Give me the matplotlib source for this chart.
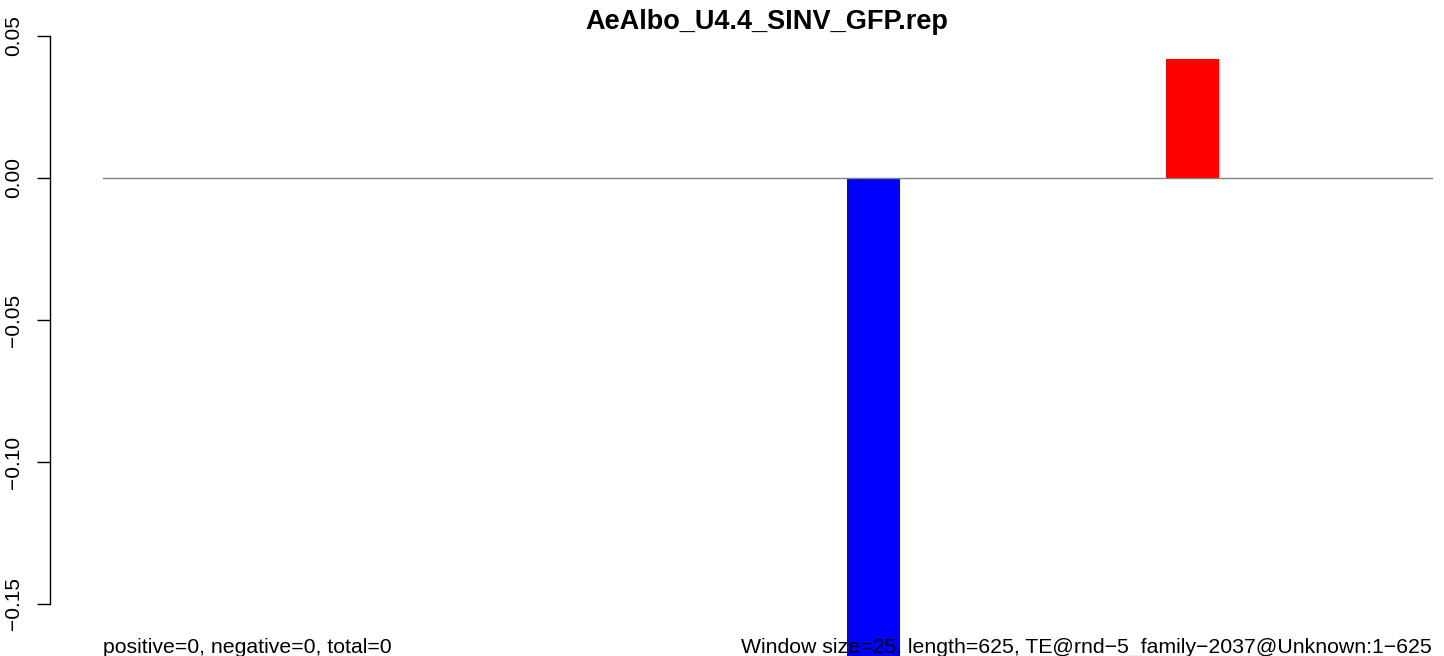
import matplotlib
matplotlib.use('Agg')
import matplotlib.pyplot as plt
import numpy as np

plt.rcParams['font.family'] = ['Liberation Sans', 'DejaVu Sans']

title = 'AeAlbo_U4.4_SINV_GFP.rep'
window = 25
length = 625
starts = np.arange(0, length, window)

# signal per window, only two windows carry a value
neg_vals = np.zeros(len(starts))
pos_vals = np.zeros(len(starts))
neg_vals[14] = -0.20
pos_vals[20] = 0.042

yticks = [-0.15, -0.10, -0.05, 0.00, 0.05]
left_note = 'positive=0, negative=0, total=0'
right_note = 'Window size=25, length=625, TE@rnd\u22125_family\u22122037@Unknown:1\u2212625'

W, H = 1444, 656
fig = plt.figure(figsize=(W / 100, H / 100), dpi=100)
ax = fig.add_axes([50 / W, 0, 1435 / W, 1])

ax.bar(starts, neg_vals, width=window, align='edge', color='#0000ff', linewidth=0, zorder=2)
ax.bar(starts, pos_vals, width=window, align='edge', color='#ff0000', linewidth=0, zorder=2)
ax.plot([0, length], [0, 0], color='#808080', lw=1.0, zorder=3)

ax.set_xlim(-window, length + window)
ax.set_ylim((178 - H) / 2840, 178 / 2840)

for s in ['top', 'right', 'bottom']:
    ax.spines[s].set_visible(False)
ax.spines['left'].set_bounds(yticks[0], yticks[-1])
ax.spines['left'].set_linewidth(1.0)
ax.set_xticks([])
ax.set_yticks(yticks)
ax.set_yticklabels([('%.2f' % v).replace('-', '\u2212') for v in yticks],
                   rotation=90, va='center')
ax.tick_params(axis='y', length=9.5, width=1.0, pad=10, labelsize=15)

fig.text(767 / W, 1 - 22 / H, title, ha='center', va='center',
         fontsize=19.5, fontweight='bold')
ax.text(0, (178 - 653) / 2840, left_note, ha='left', va='baseline',
        fontsize=15.3, zorder=5)
ax.text(length, (178 - 653) / 2840, right_note, ha='right', va='baseline',
        fontsize=15.3, zorder=5)

fig.savefig('out.png', dpi=100)
